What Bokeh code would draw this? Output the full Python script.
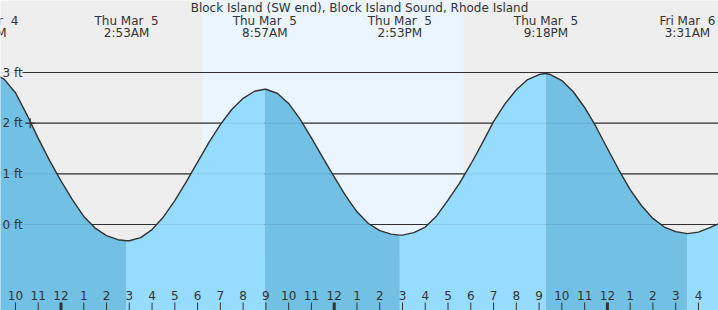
from bokeh.plotting import figure
from bokeh.models import Range1d, ColumnDataSource, LabelSet, Label, BoxAnnotation
from bokeh.embed import file_html
from bokeh.resources import INLINE
from bokeh.core.properties import value

# ---------------- data (hours from midnight, Thu Mar 5) ----------------
tide_t = [-3.367, -3.0, -2.5, -2.0, -1.5, -1.0, -0.5, 0.0, 0.5, 1.0, 1.5, 2.0, 2.5, 2.883,
          3.0, 3.5, 4.0, 4.5, 5.0, 5.5, 6.0, 6.5, 7.0, 7.5, 8.0, 8.5, 8.95,
          9.0, 9.5, 10.0, 10.5, 11.0, 11.5, 12.0, 12.5, 13.0, 13.5, 14.0, 14.5, 14.883,
          15.0, 15.5, 16.0, 16.5, 17.0, 17.5, 18.0, 18.5, 19.0, 19.5, 20.0, 20.5, 21.0, 21.3,
          21.5, 22.0, 22.5, 23.0, 23.5, 24.0, 24.5, 25.0, 25.5, 26.0, 26.5, 27.0, 27.517,
          28.0, 28.5, 29.0]
tide_h = [3.00, 2.98, 2.87, 2.60, 2.17, 1.70, 1.26, 0.86, 0.49, 0.16, -0.07, -0.22, -0.30, -0.32,
          -0.32, -0.26, -0.10, 0.15, 0.47, 0.84, 1.23, 1.62, 1.97, 2.27, 2.49, 2.63, 2.67,
          2.67, 2.59, 2.39, 2.08, 1.71, 1.32, 0.94, 0.57, 0.25, 0.02, -0.12, -0.19, -0.21,
          -0.21, -0.16, -0.05, 0.17, 0.48, 0.81, 1.19, 1.60, 2.03, 2.38, 2.66, 2.86, 2.96, 2.98,
          2.96, 2.84, 2.62, 2.31, 1.93, 1.50, 1.08, 0.69, 0.37, 0.12, -0.05, -0.14, -0.18,
          -0.15, -0.06, 0.04]

extreme_t = [-3.367, 2.883, 8.95, 14.883, 21.3, 27.517, 33.8]
extreme_day = ["Wed Mar  4", "Thu Mar  5", "Thu Mar  5", "Thu Mar  5", "Thu Mar  5", "Fri Mar  6"]
extreme_time = ["8:38PM", "2:53AM", "8:57AM", "2:53PM", "9:18PM", "3:31AM"]

sun_t = [6.22, 17.68]          # daylight span
ft_levels = [0, 1, 2, 3]
ft_labels = ["0 ft", "1 ft", "2 ft", "3 ft"]

hour_t = list(range(-2, 29))
hour_labels = ["10", "11", "12", "1", "2", "3", "4", "5", "6", "7", "8", "9", "10", "11",
               "12", "1", "2", "3", "4", "5", "6", "7", "8", "9", "10", "11",
               "12", "1", "2", "3", "4"]

now_t = [-1.35]
now_h = [2.0]

title = "Block Island (SW end), Block Island Sound, Rhode Island"

# ---------------- figure ----------------
X0, X1 = -2.657, 28.88
Y0, Y1 = -1.697, 4.421
FONT = value("DejaVu Sans")
TXT = "#333333"

p = figure(width=718, height=310, x_range=Range1d(X0, X1), y_range=Range1d(Y0, Y1),
           output_backend="svg", toolbar_location=None, min_border=0,
           x_axis_location=None, y_axis_location=None,
           background_fill_color="#EEEEEE", border_fill_color="#EEEEEE",
           outline_line_color=None)
p.xgrid.visible = False
p.ygrid.visible = False

p.add_layout(BoxAnnotation(left=sun_t[0], right=sun_t[1], fill_color="#EAF5FF",
                           fill_alpha=1.0, line_color=None, level="underlay"))

# grid lines (behind fill)
p.segment(x0=[-1.69] * len(ft_levels), x1=[X1 + 1] * len(ft_levels), y0=ft_levels, y1=ft_levels,
          line_color="#333333", line_width=1.2)

# fills between extremes: falling limbs darker, rising limbs lighter
for i in range(len(extreme_t) - 1):
    a, b = extreme_t[i], extreme_t[i + 1]
    xs = [t for t in tide_t if a <= t <= b]
    ys = [h for t, h in zip(tide_t, tide_h) if a <= t <= b]
    col = "#72C0E4" if i % 2 == 0 else "#96DCFF"
    p.varea(x=xs, y1=Y0, y2=ys, fill_color=col, fill_alpha=1.0)

# faint grid lines on fill
p.segment(x0=[X0 - 1] * len(ft_levels), x1=[X1 + 1] * len(ft_levels), y0=ft_levels, y1=ft_levels,
          line_color="#000000", line_alpha=0.08, line_width=1)

p.line(tide_t, tide_h, line_color="#333333", line_width=1.4, line_join="round")

p.scatter(now_t, now_h, marker="cross", size=10, line_color="#333333", line_width=1.2)

# hour ticks
tick_w = [3 if l == "12" else 1 for l in hour_labels]
tsrc = ColumnDataSource(dict(x=hour_t, w=tick_w, lab=hour_labels))
p.segment(x0="x", x1="x", y0=-1.539, y1=Y0 - 0.1, line_width="w", line_color="#333333", source=tsrc)
p.text(x="x", y=-1.40, text="lab", source=tsrc, text_align="center", text_baseline="middle",
       text_font=FONT, text_font_size="12px", text_color=TXT)

# extreme labels (keep the double space visible)
disp_day = [d.replace("  ", "\u00a0 ") for d in extreme_day]
esrc = ColumnDataSource(dict(x=extreme_t[:-1], d=disp_day, tm=extreme_time))
p.text(x="x", y=4.026, text="d", source=esrc, text_align="center", text_baseline="middle",
       text_font=FONT, text_font_size="12px", text_color=TXT)
p.text(x="x", y=3.789, text="tm", source=esrc, text_align="center", text_baseline="middle",
       text_font=FONT, text_font_size="12px", text_color=TXT)

# y labels
ysrc = ColumnDataSource(dict(x=[2] * len(ft_levels), y=ft_levels, t=ft_labels))
p.add_layout(LabelSet(x="x", y="y", text="t", source=ysrc, x_units="screen", y_units="data",
                      text_align="left", text_baseline="middle", text_font=FONT,
                      text_font_size="12px", text_color=TXT))

p.add_layout(Label(x=359, y=302.5, x_units="screen", y_units="screen", text=title,
                   text_align="center", text_baseline="middle", text_font="DejaVu Sans",
                   text_font_size="12px", text_color=TXT))

open("out.html", "w").write(file_html(p, INLINE))
